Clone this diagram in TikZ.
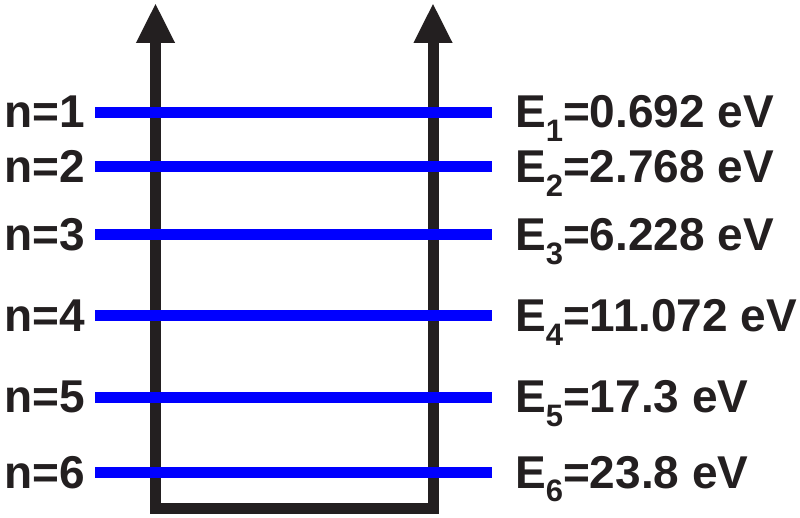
\documentclass[tikz,border=0pt]{standalone}
\usepackage{fontspec}
\setmainfont{Liberation Sans}
\usetikzlibrary{positioning, arrows.meta}

\definecolor{wellblack}{RGB}{35,31,32}
\definecolor{levelblue}{RGB}{0,0,255}
\newcommand{\Esub}[1]{\raisebox{-0.3em}{\fontsize{31}{31}\selectfont #1}}

\begin{document}
\begin{tikzpicture}[x=1pt, y=-1pt,
    wall/.style={draw=wellblack, line width=11pt, line join=miter,
        {Triangle[length=40pt, width=36pt]}-{Triangle[length=40pt, width=36pt]}},
    level/.style={draw=levelblue, line width=11pt},
    nlabel/.style={anchor=base east, xshift=-10pt, yshift=-15.5pt, inner sep=0pt,
        text=wellblack, font=\fontsize{46}{52}\selectfont\bfseries},
    elabel/.style={anchor=base west, xshift=23pt, yshift=-15.5pt, inner sep=0pt,
        text=wellblack, font=\fontsize{46}{52}\selectfont\bfseries}]

    \useasboundingbox (0,0) rectangle (800,518);

    % the well
    \coordinate (lefttop) at (155.5,3);
    \coordinate (leftbot) at (155.5,508);
    \coordinate (rightbot) at (433,508);
    \coordinate (righttop) at (433,3);
    \draw[wall] (lefttop) -- (leftbot) -- (rightbot) -- (righttop);

    % energy levels
    \coordinate (l1) at (95,112.5);  \coordinate (r1) at (492,112.5);
    \coordinate (l2) at (95,167);    \coordinate (r2) at (492,167);
    \coordinate (l3) at (95,235);    \coordinate (r3) at (492,235);
    \coordinate (l4) at (95,316);    \coordinate (r4) at (492,316);
    \coordinate (l5) at (95,397);    \coordinate (r5) at (492,397);
    \coordinate (l6) at (95,472.5);  \coordinate (r6) at (492,472.5);

    \draw[level] (l1) -- (r1);
    \draw[level] (l2) -- (r2);
    \draw[level] (l3) -- (r3);
    \draw[level] (l4) -- (r4);
    \draw[level] (l5) -- (r5);
    \draw[level] (l6) -- (r6);

    \node[nlabel] (n1) at (l1) {n=1};
    \node[nlabel] (n2) at (l2) {n=2};
    \node[nlabel] (n3) at (l3) {n=3};
    \node[nlabel] (n4) at (l4) {n=4};
    \node[nlabel] (n5) at (l5) {n=5};
    \node[nlabel] (n6) at (l6) {n=6};

    \node[elabel] (e1) at (r1) {E\Esub{1}=0.692 eV};
    \node[elabel] (e2) at (r2) {E\Esub{2}=2.768 eV};
    \node[elabel] (e3) at (r3) {E\Esub{3}=6.228 eV};
    \node[elabel] (e4) at (r4) {E\Esub{4}=11.072 eV};
    \node[elabel] (e5) at (r5) {E\Esub{5}=17.3 eV};
    \node[elabel] (e6) at (r6) {E\Esub{6}=23.8 eV};

\end{tikzpicture}
\end{document}
